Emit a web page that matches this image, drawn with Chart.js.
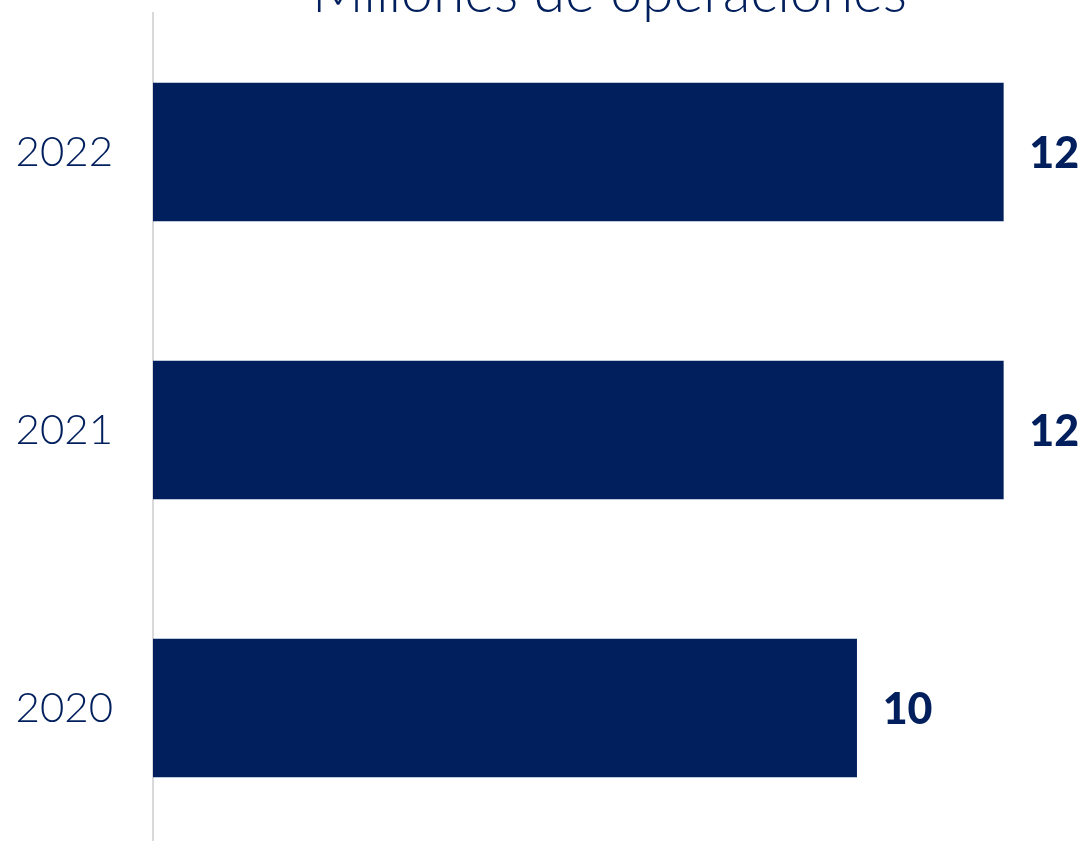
<!DOCTYPE html>
<html>
<head>
<meta charset="utf-8">
<script src="https://cdn.jsdelivr.net/npm/chart.js@4"></script>
<style>
  html, body { margin: 0; padding: 0; background: #fff; overflow: hidden; }
  #chartCanvas { display: block; margin-top: -40px; }
</style>
</head>
<body>
<canvas id="chartCanvas" width="1084" height="900"></canvas>
<script>
let years = ["2022", "2021", "2020"];
let operaciones = [12, 12, 9.93];
let chartTitle = "Millones de operaciones";

const navy = "#001f5c";

// título y etiquetas de valor
const textos = {
    id: "textos",
    afterDatasetsDraw(chart) {
        let ctx = chart.ctx;
        let area = chart.chartArea;
        let meta = chart.getDatasetMeta(0);
        ctx.save();
        ctx.fillStyle = navy;

        ctx.font = "300 57px Lato, 'DejaVu Sans', sans-serif";
        ctx.textAlign = "center";
        ctx.textBaseline = "alphabetic";
        ctx.fillText(chartTitle, (area.left + area.right) / 2 + 3, area.top - 1);

        ctx.font = "900 43px Lato, 'DejaVu Sans', sans-serif";
        ctx.textAlign = "left";
        ctx.textBaseline = "middle";
        meta.data.forEach((bar, i) => {
            ctx.fillText(Math.round(operaciones[i]), bar.x + 26, bar.y + 2);
        });
        ctx.restore();
    }
};

let chart = new Chart(document.getElementById("chartCanvas"), {
    type: "bar",
    data: {
        labels: years,
        datasets: [{
            data: operaciones,
            backgroundColor: navy,
            barThickness: 138,
        }]
    },
    options: {
        indexAxis: "y",
        responsive: false,
        animation: false,
        layout: { padding: { left: 0, right: 24, top: 53, bottom: 13 } },
        plugins: {
            legend: { display: false },
            tooltip: { enabled: false },
            title: { display: false }
        },
        scales: {
            x: {
                display: false,
                min: 0,
                max: 12.8,
            },
            y: {
                afterFit: (scale) => {
                    scale.width = 153;
                    scale.paddingTop = 0;
                    scale.paddingBottom = 0;
                },
                grid: { display: false, drawTicks: false },
                border: { display: true, color: "#d9d9d9", width: 2 },
                ticks: {
                    color: navy,
                    padding: 40,
                    font: { family: "Lato, 'DejaVu Sans', sans-serif", size: 42, weight: 300 }
                }
            }
        }
    },
    plugins: [textos]
});
</script>
</body>
</html>
